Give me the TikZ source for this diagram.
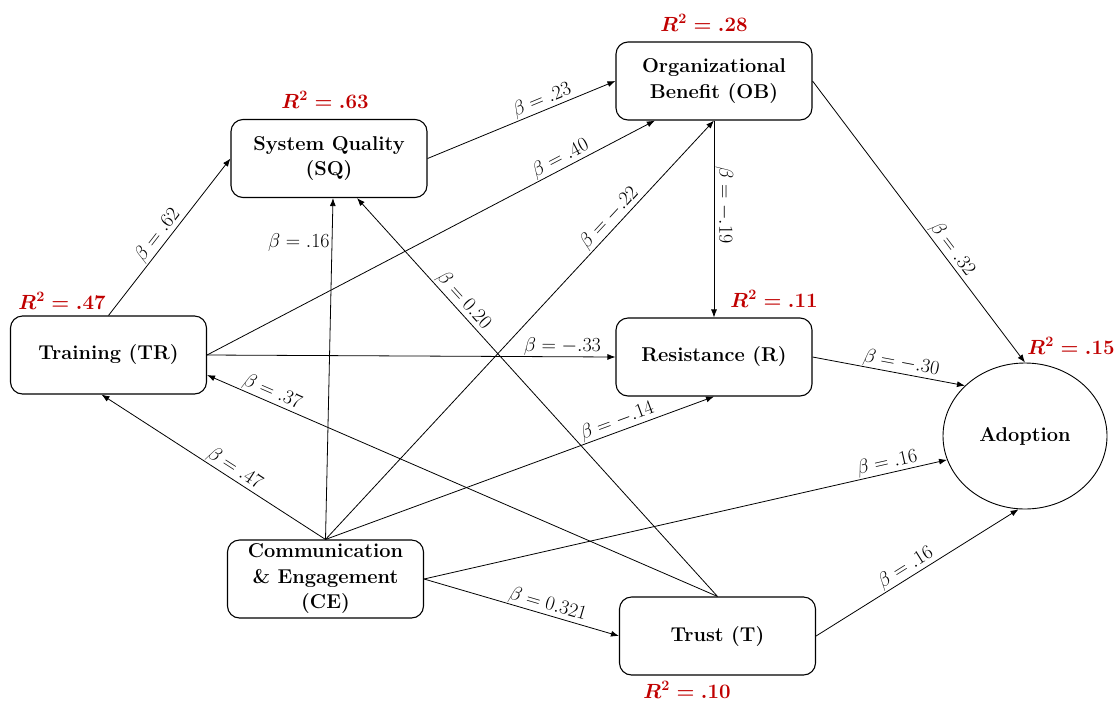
\RequirePackage{fix-cm}
\documentclass[tikz,border=0pt]{standalone}
\usepackage{amsmath}
\usetikzlibrary{arrows.meta,calc,shapes.geometric}
\definecolor{rsqred}{RGB}{192,0,0}
\begin{document}
\begin{tikzpicture}[x=1pt,y=-1pt,
  construct/.style={draw, rounded corners=12pt, minimum width=196pt, minimum height=78pt,
    inner sep=1pt, align=center, line width=1.1pt,
    font=\fontsize{20}{25.5}\selectfont\bfseries},
  outcome/.style={draw, ellipse, minimum width=164pt, minimum height=146pt, inner sep=0pt,
    line width=0.9pt, font=\fontsize{20}{25}\selectfont\bfseries},
  path/.style={-{Latex[length=8pt,width=6pt]}, line width=0.8pt},
  coef/.style={font=\fontsize{20}{22}\selectfont, sloped, above, inner sep=1pt},
  rsq/.style={text=rsqred, font=\boldmath\fontsize{20.5}{24}\selectfont}
]
\useasboundingbox (0,0) rectangle (1116,702);

% constructs
\node[construct] (SQ) at (329,158.5) {System Quality\\(SQ)};
\node[construct] (OB) at (714,81) {Organizational\\Benefit (OB)};
\node[construct] (TR) at (108.5,355) {Training (TR)};
\node[construct] (R)  at (714,357) {Resistance (R)};
\node[construct] (CE) at (325.5,579) {Communication\\\&~Engagement\\(CE)};
\node[construct] (T)  at (717.5,636) {Trust (T)};
\node[outcome]   (AD) at (1025,436) {Adoption};

% explained variance
\node[rsq] (rSQ) at (325,100) {$R^2=.63$};
\node[rsq] (rOB) at (704,23)  {$R^2=.28$};
\node[rsq] (rTR) at (62,301)  {$R^2=.47$};
\node[rsq] (rR)  at (774,299) {$R^2=.11$};
\node[rsq] (rAD) at (1071,346) {$R^2=.15$};
\node[rsq] (rT)  at (687,690) {$R^2=.10$};

% structural paths
\draw[path] (TR.north) -- node[coef,pos=.47]{$\beta=.62$} (SQ.west);
\draw[path] (TR.east) -- node[coef,pos=.8]{$\beta=.40$} ($(OB.south west)!.2!(OB.south east)$);
\draw[path] (TR.east) -- node[coef,pos=.87]{$\beta=-.33$} (R.west);
\draw[path] (SQ.east) -- node[coef,pos=.63]{$\beta=.23$} (OB.west);
\draw[path] (OB.south) -- node[coef,pos=.43]{$\beta=-.19$} (R.north);
\draw[path] (OB.east) -- node[coef,pos=.62]{$\beta=.32$} (AD.north);
\draw[path] (R.east) -- node[coef,pos=.57]{$\beta=-.30$} (AD.140);
\draw[path] (CE.east) -- node[coef,pos=.89]{$\beta=.16$} (AD.197);
\draw[path] (T.east) -- node[coef,pos=.47]{$\beta=.16$} (AD.265);
\draw[path] (CE.north) -- node[coef,pos=.43]{$\beta=.47$} ($(TR.south)+(-7,0)$);
\draw[path] (CE.north) -- node[left,pos=.87,inner sep=2pt,font=\fontsize{20}{22}\selectfont]{$\beta=.16$} ($(SQ.south)+(4,0)$);
\draw[path] (CE.north) -- node[coef,pos=.75]{$\beta=-.22$} (OB.south);
\draw[path] (CE.north) -- node[coef,pos=.76]{$\beta=-.14$} (R.south);
\draw[path] (CE.east) -- node[coef,pos=.62]{$\beta=0.321$} (T.west);
\draw[path] (T.north) -- node[coef,pos=.88]{$\beta=.37$} ($(TR.east)+(0,20)$);
\draw[path] (T.north) -- node[coef,pos=.725]{$\beta=0.20$} ($(SQ.south)+(28,0)$);
\end{tikzpicture}
\end{document}
